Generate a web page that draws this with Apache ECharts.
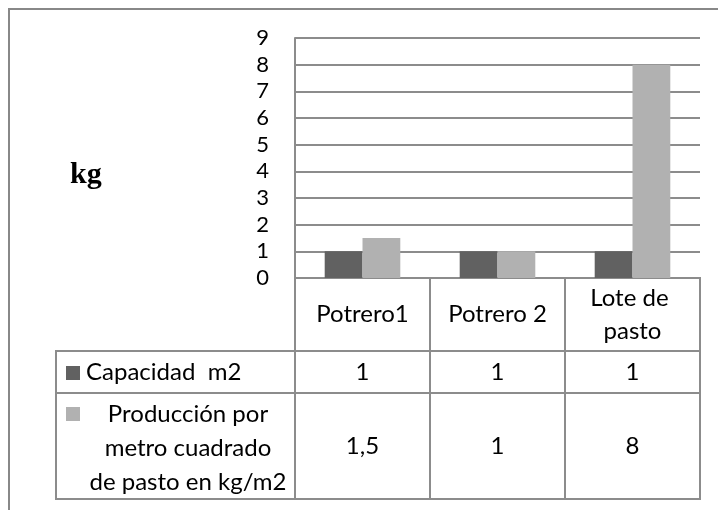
<!DOCTYPE html>
<html><head><meta charset="utf-8">
<script src="https://cdn.jsdelivr.net/npm/echarts@6/dist/echarts.min.js"></script>
<style>html,body{margin:0;padding:0;background:#fff}#c{width:718px;height:510px}</style>
</head><body><div id="c"></div>
<script>
// ---- data ----
const categories = ['Potrero1', 'Potrero 2', 'Lote de pasto'];
const seriesNames = ['Capacidad  m2', 'Producción por\nmetro cuadrado\nde pasto en kg/m2'];
const capacidad = [1, 1, 1];
const produccion = [1.5, 1, 8];
const yMin = 0, yMax = 9, yStep = 1;
const yAxisTitle = 'kg';

// ---- styling / layout ----
const seriesValues = [capacidad, produccion];
const seriesColors = ['#616161', '#b1b1b1'];
const FONT = 'Lato';
const FS = 24;
const lineColor = '#8c8c8c';
const rowEdges = [0, 73, 115, 221];
const legendColWidth = 239;
const fmt = v => String(v).replace('.', ',');

const tableData = [];
categories.forEach((c, i) => tableData.push([i, 0, c]));
seriesNames.forEach((n, r) => {
  tableData.push([-1, r + 1, n]);
  seriesValues[r].forEach((v, i) => tableData.push([i, r + 1, fmt(v)]));
});

function renderCell(params, api) {
  const item = tableData[params.dataIndex];
  const col = item[0], row = item[1];
  const cs = params.coordSys;
  const colW = api.size([1, 0])[0];
  const yTop = api.coord([0, rowEdges[row]])[1];
  const yBot = api.coord([0, rowEdges[row + 1]])[1];
  let x0, w;
  if (col < 0) { x0 = cs.x - legendColWidth; w = legendColWidth; }
  else { const cx = api.coord([col, 0])[0]; x0 = cx - colW / 2; w = colW; }
  const children = [{
    type: 'rect', shape: { x: x0, y: yTop, width: w, height: yBot - yTop },
    style: { fill: 'none', stroke: lineColor, lineWidth: 2 }
  }];
  const ym = (yTop + yBot) / 2;
  if (col < 0) {
    const r = row - 1;
    if (r === 0) {
      children.push({ type: 'rect', shape: { x: x0 + 10, y: ym - 6, width: 14, height: 14 }, style: { fill: seriesColors[r] } });
      children.push({ type: 'text', style: { text: item[2], x: x0 + 30, y: ym, align: 'left', verticalAlign: 'middle', fontFamily: FONT, fontSize: FS, fill: '#000' } });
    } else {
      children.push({ type: 'rect', shape: { x: x0 + 10, y: yTop + 14, width: 14, height: 14 }, style: { fill: seriesColors[r] } });
      children.push({ type: 'text', style: { text: item[2], x: x0 + 132, y: ym + 2, align: 'center', verticalAlign: 'middle', fontFamily: FONT, fontSize: FS, lineHeight: 34, fill: '#000' } });
    }
  } else {
    children.push({ type: 'text', style: { text: item[2], x: x0 + w / 2, y: ym, align: 'center', verticalAlign: 'middle', width: w - 16, overflow: 'break', fontFamily: FONT, fontSize: FS, lineHeight: 33, fill: '#000' } });
  }
  return { type: 'group', children };
}

const chart = echarts.init(document.getElementById('c'), null, { renderer: 'canvas' });
chart.setOption({
  animation: false,
  backgroundColor: '#fff',
  title: { text: yAxisTitle, left: 65, top: 155, textStyle: { fontFamily: 'Liberation Serif', fontWeight: 'bold', fontSize: 30, color: '#000' } },
  graphic: [{ type: 'rect', shape: { x: 9, y: 9, width: 740, height: 540 }, style: { fill: 'none', stroke: '#888', lineWidth: 2 }, silent: true }],
  grid: [
    { left: 295, right: 18, top: 38, height: 240 },
    { left: 295, right: 18, top: 278, height: 221 }
  ],
  xAxis: [
    { type: 'category', gridIndex: 0, data: categories, axisTick: { show: false }, axisLabel: { show: false },
      axisLine: { lineStyle: { color: lineColor, width: 2 } } },
    { type: 'category', gridIndex: 1, data: categories, show: false }
  ],
  yAxis: [
    { type: 'value', gridIndex: 0, min: yMin, max: yMax, interval: yStep,
      axisLine: { show: true, lineStyle: { color: lineColor, width: 2 } }, axisTick: { show: false },
      axisLabel: { margin: 26, fontFamily: FONT, fontSize: 22, color: '#000' },
      splitLine: { lineStyle: { color: lineColor, width: 2 } } },
    { type: 'value', gridIndex: 1, min: 0, max: 221, inverse: true, show: false }
  ],
  series: [
    { name: seriesNames[0], type: 'bar', xAxisIndex: 0, yAxisIndex: 0, data: capacidad, itemStyle: { color: seriesColors[0] }, barGap: '0%', barCategoryGap: '44%' },
    { name: seriesNames[1], type: 'bar', xAxisIndex: 0, yAxisIndex: 0, data: produccion, itemStyle: { color: seriesColors[1] }, barGap: '0%', barCategoryGap: '44%' },
    { type: 'custom', xAxisIndex: 1, yAxisIndex: 1, data: tableData.map(d => [d[0], d[1]]), renderItem: renderCell, silent: true, clip: false }
  ]
});
</script></body></html>
